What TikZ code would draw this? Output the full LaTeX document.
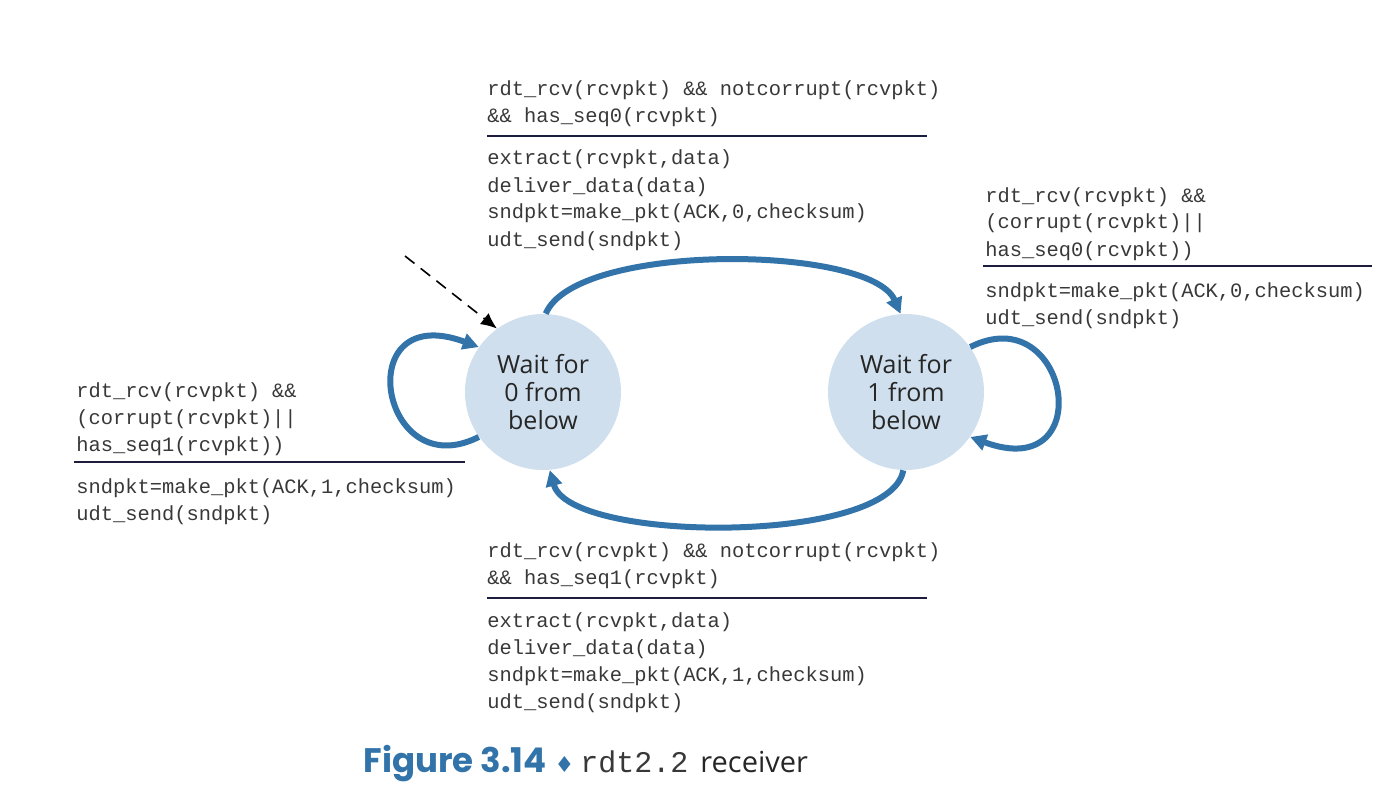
\documentclass[tikz,border=0pt]{standalone}
\usepackage{fontspec}
\setmainfont{Open Sans}
\setmonofont{Liberation Mono}
\newfontfamily\figfont{Poppins}
\newfontfamily\symfont{DejaVu Sans}
\usetikzlibrary{arrows.meta}

\definecolor{arcblue}{HTML}{3273A9}
\definecolor{statefill}{HTML}{CFDFEE}
\definecolor{rulenavy}{HTML}{1C1C3C}
\definecolor{txtgray}{HTML}{383838}

\begin{document}
\begin{tikzpicture}[x=0.5pt, y=0.5pt,
  waitstate/.style={circle, fill=statefill, minimum size=78pt, inner sep=0pt,
    align=center, font=\fontsize{12.5}{14}\selectfont, text=black!85},
  trans/.style={draw=arcblue, line width=3pt, -{Triangle[length=8pt, width=8pt]}},
  code/.style={anchor=base west, align=left, inner sep=0pt,
    font=\ttfamily\fontsize{10.2}{13.5}\selectfont, text=txtgray},
  rule/.style={draw=rulenavy, line width=1pt}]
\useasboundingbox (0, 0) rectangle (1400, 810);

% states
\node [waitstate] (w0) at (543, 418) {Wait for\\0 from\\below};
\node [waitstate] (w1) at (906, 418) {Wait for\\1 from\\below};

% initial arrow
\coordinate (init) at (405, 554);
\draw [black, line width=0.8pt, dashed, dash pattern=on 6pt off 4pt, -{Latex[length=8pt, width=7pt]}] (init) -- (w0.126);

% transitions
\draw [trans] (w0.88) .. controls +(30, 72) and +(-30, 69) .. (w1.94);
\draw [trans] (w1.-92) .. controls +(-13, -75) and +(20, -73) .. (w0.-85);
\draw [trans] (w0.215) .. controls +(-99, -50) and +(-130, 48) .. (w0.145);
\draw [trans] (w1.35) .. controls +(99, 50) and +(130, -48) .. (w1.-35);

% top: 0 -> 1
\node [code] (g01) at (487, 687) {rdt\_rcv(rcvpkt) \&\& notcorrupt(rcvpkt)\\\&\& has\_seq0(rcvpkt)};
\draw [rule] (487, 674) -- (927, 674);
\node [code] (a01) at (487, 564) {extract(rcvpkt,data)\\deliver\_data(data)\\sndpkt=make\_pkt(ACK,0,checksum)\\udt\_send(sndpkt)};

% bottom: 1 -> 0
\node [code] (g10) at (487, 226) {rdt\_rcv(rcvpkt) \&\& notcorrupt(rcvpkt)\\\&\& has\_seq1(rcvpkt)};
\draw [rule] (487, 212) -- (927, 212);
\node [code] (a10) at (487, 102) {extract(rcvpkt,data)\\deliver\_data(data)\\sndpkt=make\_pkt(ACK,1,checksum)\\udt\_send(sndpkt)};

% left loop
\node [code] (g00) at (76, 359) {rdt\_rcv(rcvpkt) \&\&\\(corrupt(rcvpkt)||\\has\_seq1(rcvpkt))};
\draw [rule] (74, 348) -- (465, 348);
\node [code] (a00) at (76, 290) {sndpkt=make\_pkt(ACK,1,checksum)\\udt\_send(sndpkt)};

% right loop
\node [code] (g11) at (985, 554) {rdt\_rcv(rcvpkt) \&\&\\(corrupt(rcvpkt)||\\has\_seq0(rcvpkt))};
\draw [rule] (983, 544) -- (1372, 544);
\node [code] (a11) at (985, 486) {sndpkt=make\_pkt(ACK,0,checksum)\\udt\_send(sndpkt)};

% caption
\node [anchor=base west, inner sep=0pt] (cap) at (363, 38)
  {{\figfont\bfseries\fontsize{17}{20}\selectfont\color{arcblue}Figure 3.14}%
   \hspace{4pt}{\symfont\fontsize{11}{13}\selectfont\color{arcblue}♦}%
   \hspace{3pt}{\ttfamily\fontsize{15}{18}\selectfont\color{txtgray}rdt2.2}%
   \hspace{6pt}{\fontsize{14.5}{18}\selectfont\color{black!85}receiver}};
\end{tikzpicture}
\end{document}
